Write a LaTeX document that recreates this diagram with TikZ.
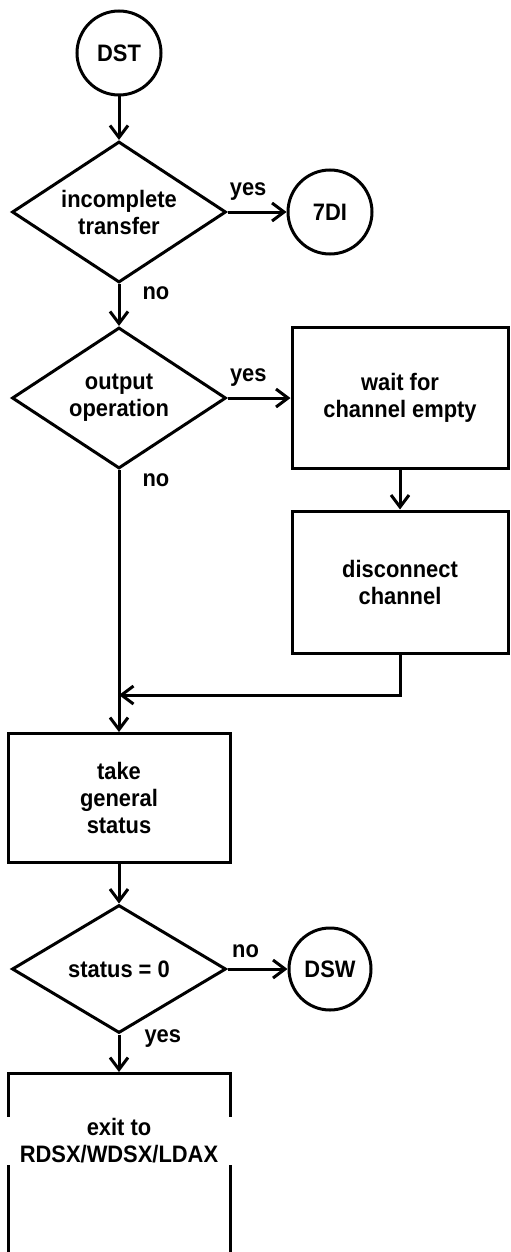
\documentclass[tikz,border=0pt]{standalone}
\usepackage{fontspec}
\setmainfont{Liberation Sans}[FakeStretch=0.92]
\usetikzlibrary{shapes.geometric,arrows.meta}

\begin{document}
\begin{tikzpicture}[x=0.5pt,y=-0.5pt,line width=1.5pt,
    every node/.style={font=\fontsize{11.9}{13.5}\selectfont\bfseries, align=center},
    term/.style={draw, circle, minimum size=42pt, inner sep=0pt},
    test/.style={draw, diamond, inner sep=0pt, shape aspect=1.5, minimum width=107pt, minimum height=70.5pt},
    proc/.style={draw, rectangle, inner sep=0pt},
    flow/.style={-{Straight Barb[length=6pt,width=9pt]}},
    lbl/.style={draw=none, inner sep=1pt}]
    \useasboundingbox (0,0) rectangle (510,1252);
    \clip (0,0) rectangle (510,1252);

    \node[term] (dst) at (119,53) {DST};
    \node[test] (incompl) at (119,212) {incomplete\\transfer};
    \node[term] (sdi) at (330,212) {7DI};
    \node[test] (output) at (119,398) {output\\operation};
    \node[proc, minimum width=108pt, minimum height=70.5pt] (wait) at (400,398) {wait for\\channel empty};
    \node[proc, minimum width=108pt, minimum height=71pt] (disc) at (400,582) {disconnect\\channel};
    \coordinate (join) at (119,695);
    \node[proc, minimum width=111pt, minimum height=64.5pt] (gstat) at (119,798) {take\\general\\status};
    \node[test, minimum height=64pt] (zero) at (119,969) {status = 0};
    \node[term, minimum size=41pt] (dsw) at (330,969) {DSW};
    \node[proc, minimum width=111pt, minimum height=110pt, anchor=north] (exit) at (119,1072) {};
    \node[fill=white, inner sep=1pt, minimum width=115pt] (exittxt) at (119,1141) {exit to\\RDSX/WDSX/LDAX};

    \draw[flow] (dst) -- (incompl);
    \draw[flow] (incompl) -- node[lbl, above=4pt, pos=0.35] {yes} (sdi);
    \draw[flow] (incompl) -- node[lbl, anchor=west, xshift=10pt, pos=0.22] {no} (output);
    \draw[flow] (output) -- node[lbl, above=4pt, pos=0.33] {yes} (wait);
    \draw[flow] (wait) -- (disc);
    \draw[flow] (disc) |- (join);
    \draw[flow] (output) -- node[lbl, anchor=west, xshift=10pt, pos=0.04] {no} (gstat);
    \draw[flow] (gstat) -- (zero);
    \draw[flow] (zero) -- node[lbl, above=4pt, pos=0.3] {no} (dsw);
    \draw[flow] (zero) -- node[lbl, anchor=west, xshift=11pt, pos=0.12] {yes} (exit);
\end{tikzpicture}
\end{document}
